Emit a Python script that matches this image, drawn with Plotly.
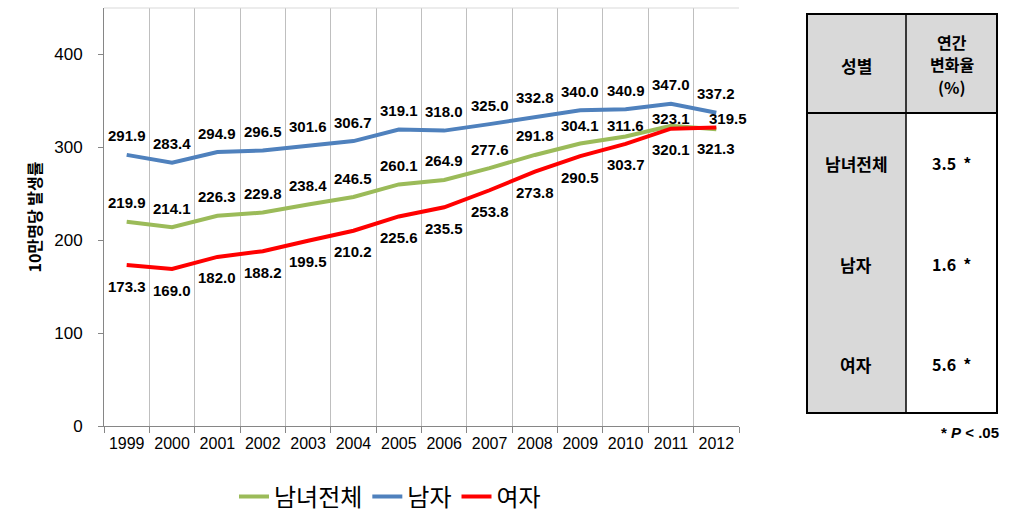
import plotly.graph_objects as go

years = ["1999", "2000", "2001", "2002", "2003", "2004", "2005", "2006",
         "2007", "2008", "2009", "2010", "2011", "2012"]
total = [219.9, 214.1, 226.3, 229.8, 238.4, 246.5, 260.1, 264.9, 277.6, 291.8, 304.1, 311.6, 323.1, 319.5]
male = [291.9, 283.4, 294.9, 296.5, 301.6, 306.7, 319.1, 318.0, 325.0, 332.8, 340.0, 340.9, 347.0, 337.2]
female = [173.3, 169.0, 182.0, 188.2, 199.5, 210.2, 225.6, 235.5, 253.8, 273.8, 290.5, 303.7, 320.1, 321.3]
series_names = ["남녀전체", "남자", "여자"]
y_ticks = [0, 100, 200, 300, 400]

table_rows = ["남녀전체", "남자", "여자"]
table_rates = ["3.5  *", "1.6  *", "5.6  *"]

colors = ["#9BBB59", "#4F81BD", "#FF0000"]
FONT = "Arial, 'Liberation Sans', 'Noto Sans CJK KR', sans-serif"
KFONT = "'Noto Sans CJK KR', 'Malgun Gothic', sans-serif"

# plot area in pixels
L, R, T, B = 104, 739, 8, 426
W, H = 1024, 516


def px(x):
    return (x - L) / (R - L)


def py(y):
    return (B - y) / (B - T)


fig = go.Figure()
for name, vals, c in zip(series_names, [total, male, female], colors):
    fig.add_trace(go.Scatter(x=years, y=vals, mode="lines", name=name,
                             line=dict(color=c, width=4), hoverinfo="x+y"))

# data labels
default_shift = {0: (0, 19), 1: (0, 19), 2: (0, -21)}
overrides = {(0, 10): (0, 18), (0, 11): (0, 11), (0, 12): (0, 7), (0, 13): (12, 11)}
for si, vals in enumerate([total, male, female]):
    for i, v in enumerate(vals):
        xs, ys = overrides.get((si, i), default_shift[si])
        fig.add_annotation(x=i, y=v, xref="x", yref="y", text="<b>%.1f</b>" % v,
                           showarrow=False, xanchor="center", yanchor="middle",
                           xshift=xs, yshift=ys,
                           font=dict(family=FONT, size=15, color="#000000"))

# table
tx0, tx1, tx2 = 807, 906, 997
ty0, ty1, ty2 = 14, 113, 413
gray = "#D9D9D9"
shapes = []
shapes.append(dict(type="rect", xref="paper", yref="paper", x0=px(tx0), x1=px(tx2),
                   y0=py(ty0), y1=py(ty1), fillcolor=gray, line=dict(width=0), layer="below"))
shapes.append(dict(type="rect", xref="paper", yref="paper", x0=px(tx0), x1=px(tx1),
                   y0=py(ty1), y1=py(ty2), fillcolor=gray, line=dict(width=0), layer="below"))
shapes.append(dict(type="rect", xref="paper", yref="paper", x0=px(tx0), x1=px(tx2),
                   y0=py(ty0), y1=py(ty2), line=dict(color="#000000", width=2)))
shapes.append(dict(type="line", xref="paper", yref="paper", x0=px(tx0), x1=px(tx2),
                   y0=py(ty1), y1=py(ty1), line=dict(color="#000000", width=2)))
shapes.append(dict(type="line", xref="paper", yref="paper", x0=px(tx1), x1=px(tx1),
                   y0=py(ty0), y1=py(ty2), line=dict(color="#000000", width=1.5)))
# top border of plot area
shapes.append(dict(type="line", xref="paper", yref="paper", x0=0, x1=1, y0=1, y1=1,
                   line=dict(color="#D9D9D9", width=1)))


def table_text(x, y, text, size=17):
    fig.add_annotation(xref="paper", yref="paper", x=px(x), y=py(y),
                       xanchor="center", yanchor="middle",
                       text=text, showarrow=False,
                       font=dict(family=KFONT, size=size, color="#000000"))


table_text((tx0 + tx1) / 2, 65, "<b>성별</b>")
for k, line in enumerate(["연간", "변화율", "(%)"]):
    table_text((tx1 + tx2) / 2, 42 + 22.5 * k, "<b>%s</b>" % line, size=16)
row_y = [163, 264, 364]
for name, rate, ry in zip(table_rows, table_rates, row_y):
    table_text((tx0 + tx1) / 2, ry, "<b>%s</b>" % name)
    table_text((tx1 + tx2) / 2, ry, "<b>%s</b>" % rate, size=16)
fig.add_annotation(xref="paper", yref="paper", x=px(1001), y=py(432),
                   xanchor="right", yanchor="middle",
                   text="<b>* <i>P</i> &lt; .05</b>", showarrow=False,
                   font=dict(family=FONT, size=15, color="#000000"))

fig.update_layout(
    width=W, height=H,
    margin=dict(l=L, r=W - R, t=T, b=H - B, autoexpand=False),
    paper_bgcolor="white", plot_bgcolor="white",
    shapes=shapes,
    showlegend=True,
    legend=dict(orientation="h", x=px(390), xanchor="center", y=py(497), yanchor="middle",
                font=dict(family=KFONT, size=24, color="#000000"),
                itemwidth=30, tracegroupgap=0),
    xaxis=dict(type="category", range=[-0.5, 13.5], tickson="boundaries",
               showgrid=True, gridcolor="#BFBFBF", gridwidth=1,
               ticks="outside", ticklen=6, tickcolor="#868686",
               showline=True, linecolor="#868686", linewidth=1,
               automargin=False, ticklabelstandoff=3,
               tickfont=dict(family=FONT, size=16, color="#000000")),
    yaxis=dict(range=[0, 450], tickvals=y_ticks, showgrid=False, zeroline=False,
               ticks="outside", ticklen=5, tickcolor="#868686",
               showline=True, linecolor="#868686", linewidth=1,
               ticklabelstandoff=12, automargin=False,
               tickfont=dict(family=FONT, size=17, color="#000000"),
               title=dict(text="<b>10만명당 발생률</b>", standoff=8,
                          font=dict(family=KFONT, size=16, color="#000000"))),
)

fig.write_html("out.html")
